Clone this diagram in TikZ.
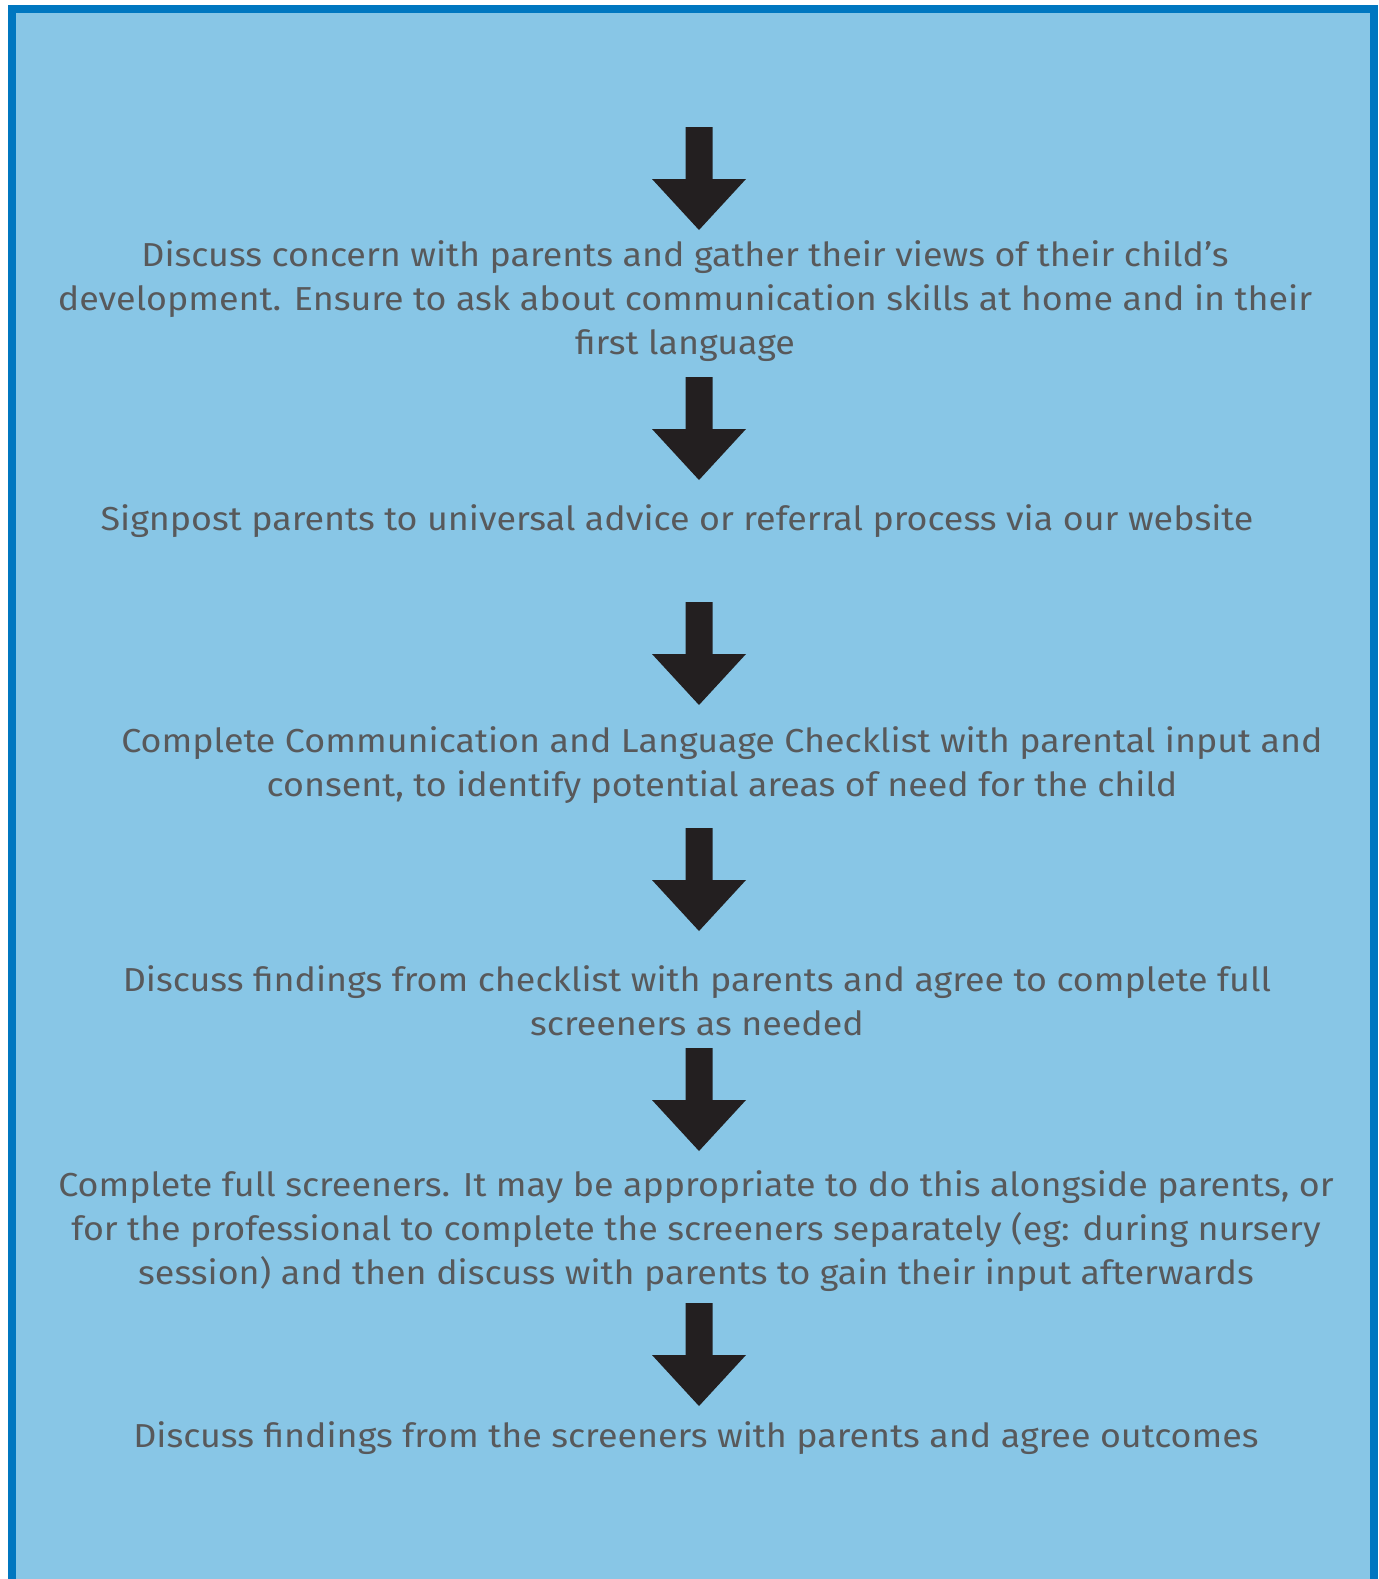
\documentclass[tikz,border=0pt]{standalone}
\usepackage{fontspec}
\setmainfont[FakeStretch=1.08]{Fira Sans}
\definecolor{panelblue}{RGB}{136,198,230}
\definecolor{framecol}{RGB}{0,119,192}
\definecolor{arrowcol}{RGB}{35,31,32}
\definecolor{textgrey}{RGB}{88,89,91}
\tikzset{
  steptext/.style={text=textgrey, align=center, inner sep=0pt,
    font=\fontsize{16.6}{22}\selectfont},
  downarrow/.pic={
    \fill[arrowcol] (-13.5,0) -- (13.5,0) -- (13.5,52) -- (47,52)
      -- (0,103) -- (-47,52) -- (-13.5,52) -- cycle;
  }
}

\begin{document}
\begin{tikzpicture}[x=0.5pt,y=-0.5pt]
		\useasboundingbox (0,0) rectangle (1379,1579);
		\fill[white] (0,0) rectangle (1379,1579);
		\fill[panelblue] (12,9) rectangle (1374,1579);
		\draw[line width=4pt,framecol] (12,1579) -- (12,9) -- (1374,9) -- (1374,1579);
		% steps
		\node[steptext] (concern) at (685,301) {Discuss concern with parents and gather their views of their child’s\\development. Ensure to ask about communication skills at home and in their\\first language};
		\node[steptext] (signpost) at (677,521) {Signpost parents to universal advice or referral process via our website};
		\node[steptext] (checklist) at (722,765) {Complete Communication and Language Checklist with parental input and\\consent, to identify potential areas of need for the child};
		\node[steptext] (findings) at (697,1001) {Discuss findings from checklist with parents and agree to complete full\\screeners as needed};
		\node[steptext] (screeners) at (696,1231) {Complete full screeners. It may be appropriate to do this alongside parents, or\\for the professional to complete the screeners separately (eg: during nursery\\session) and then discuss with parents to gain their input afterwards};
		\node[steptext] (outcomes) at (696,1438) {Discuss findings from the screeners with parents and agree outcomes};
		% arrows
		\pic (arr1) at (699,127) {downarrow};
		\pic (arr2) at (699,377) {downarrow};
		\pic (arr3) at (699,602) {downarrow};
		\pic (arr4) at (699,828) {downarrow};
		\pic (arr5) at (699,1048) {downarrow};
		\pic (arr6) at (699,1303) {downarrow};
\end{tikzpicture}
\end{document}
